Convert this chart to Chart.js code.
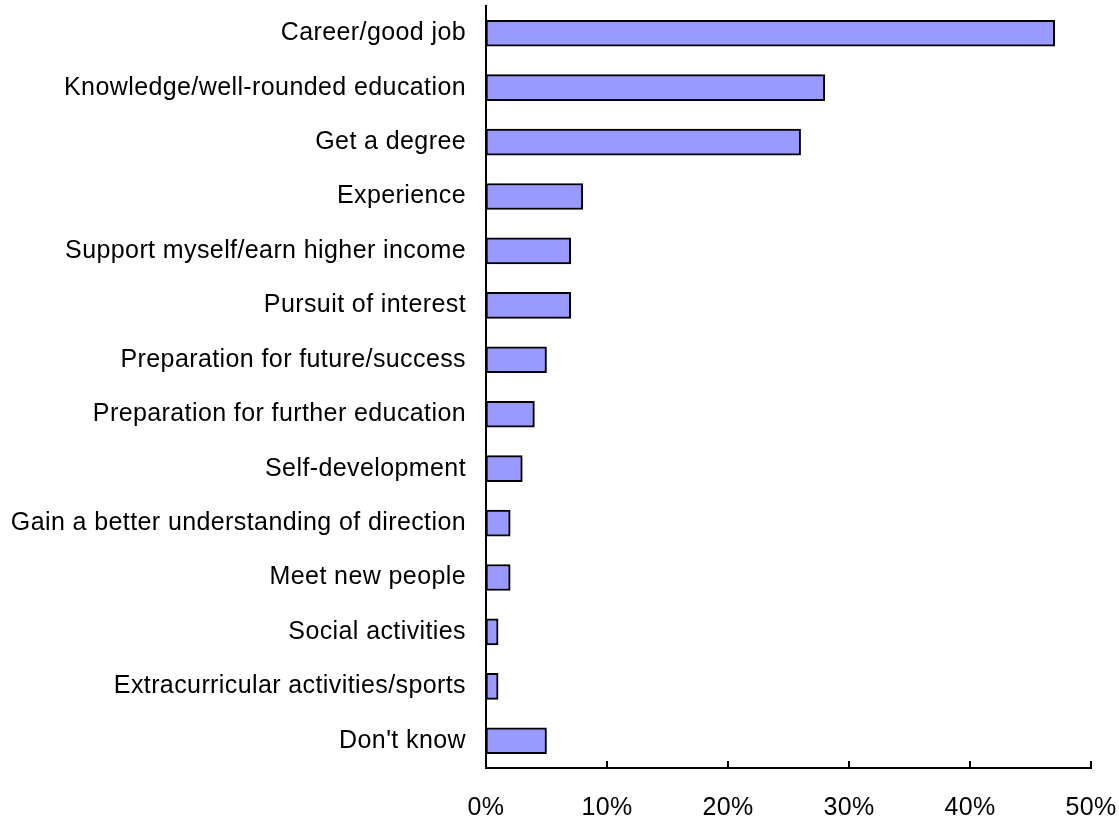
<!DOCTYPE html>
<html lang="en">
<head>
    <meta charset="utf-8" />
    <title>Reasons for attending</title>
    <script src="https://cdn.jsdelivr.net/npm/chart.js"></script>
    <style>
        html, body { margin: 0; padding: 0; background: #fff; }
        #wrap { width: 1119px; height: 819px; position: relative; }
    </style>
</head>
<body>
    <div id="wrap"><canvas id="grafico"></canvas></div>

    <script>
        // categorias e valores (%)
        const categorias = [
            'Career/good job',
            'Knowledge/well-rounded education',
            'Get a degree',
            'Experience',
            'Support myself/earn higher income',
            'Pursuit of interest',
            'Preparation for future/success',
            'Preparation for further education',
            'Self-development',
            'Gain a better understanding of direction',
            'Meet new people',
            'Social activities',
            'Extracurricular activities/sports',
            "Don't know"
        ];
        const valores = [47, 28, 26, 8, 7, 7, 5, 4, 3, 2, 2, 1, 1, 5];
        const ticksX = [0, 10, 20, 30, 40, 50];

        const fonte = { family: '"Liberation Sans", Arial, sans-serif', size: 25 };

        // o texto do original eh um pouco mais largo
        const espacamento = {
            id: 'espacamento',
            beforeDraw(chart) {
                chart.ctx.letterSpacing = '0.4px';
            }
        };

        // tracinhos do eixo x apontando pra dentro
        const marcasX = {
            id: 'marcasX',
            afterDraw(chart) {
                const ctx = chart.ctx;
                const x = chart.scales.x;
                const base = chart.chartArea.bottom;
                ctx.save();
                ctx.strokeStyle = '#000';
                ctx.lineWidth = 2;
                ticksX.forEach(v => {
                    const px = Math.round(x.getPixelForValue(v));
                    ctx.beginPath();
                    ctx.moveTo(px, base);
                    ctx.lineTo(px, base - 7);
                    ctx.stroke();
                });
                ctx.restore();
            }
        };

        const ctx = document.getElementById('grafico').getContext('2d');
        new Chart(ctx, {
            type: 'bar',
            data: {
                labels: categorias,
                datasets: [{
                    data: valores,
                    backgroundColor: '#9999FF',
                    borderColor: '#000',
                    borderWidth: 2,
                    borderSkipped: false,
                    barThickness: 26
                }]
            },
            options: {
                indexAxis: 'y',
                responsive: true,
                maintainAspectRatio: false,
                animation: false,
                layout: { padding: { top: 6, right: 28, bottom: 0, left: 0 } },
                plugins: {
                    legend: { display: false },
                    tooltip: { enabled: false }
                },
                scales: {
                    x: {
                        min: 0,
                        max: 50,
                        afterBuildTicks: s => { s.ticks = ticksX.map(v => ({ value: v })); },
                        afterFit: s => { s.height = 51; s.paddingLeft = 0; s.paddingRight = 0; },
                        grid: { display: false, drawTicks: false },
                        border: { display: true, color: '#000', width: 2 },
                        ticks: {
                            padding: 25,
                            color: '#000',
                            font: fonte,
                            maxRotation: 0,
                            callback: v => v + '%'
                        }
                    },
                    y: {
                        afterFit: s => { s.width = 486; s.paddingTop = 0; s.paddingBottom = 0; },
                        grid: { display: false, drawTicks: false },
                        border: { display: true, color: '#000', width: 2 },
                        ticks: {
                            padding: 20,
                            color: '#000',
                            autoSkip: false,
                            font: fonte
                        }
                    }
                }
            },
            plugins: [espacamento, marcasX]
        });
    </script>
</body>
</html>
